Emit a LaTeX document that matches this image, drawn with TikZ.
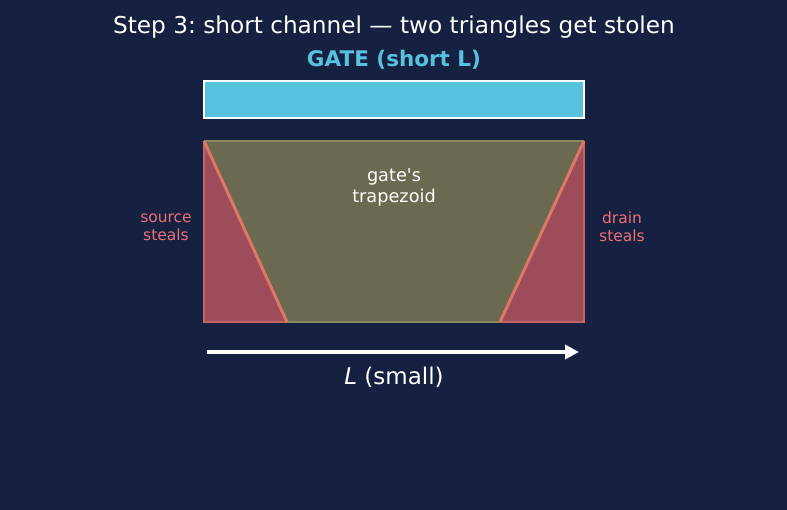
\documentclass[tikz,border=0pt]{standalone}
\usepackage{fontspec}
\setmainfont{DejaVu Sans}[Ligatures=TeXOff]
\usetikzlibrary{arrows.meta}
\frenchspacing
\definecolor{bg}{RGB}{22,32,64}
\definecolor{gatec}{RGB}{86,194,222}
\definecolor{trapc}{RGB}{107,105,80}
\definecolor{trapedge}{RGB}{140,138,92}
\definecolor{tric}{RGB}{158,75,90}
\definecolor{triedge}{RGB}{222,118,105}
\definecolor{stealc}{RGB}{236,112,120}
\tikzset{
  txt/.style={text=white, inner sep=0pt, align=center},
  steal/.style={text=stealc, inner sep=0pt, align=center, font=\fontsize{15.5}{18}\selectfont},
}
\begin{document}
\begin{tikzpicture}[x=1pt,y=-1pt]
\fill[bg] (0,0) rectangle (787,510);
\useasboundingbox (0,0) rectangle (787,510);
\node[txt, font=\fontsize{23.2}{27}\selectfont] (title) at (394,27) {Step 3: short channel — two triangles get stolen};
\node[inner sep=0pt, text=gatec, font=\bfseries\fontsize{21.5}{25}\selectfont] (gatelbl) at (394,60) {GATE (short L)};
\node[draw=white, line width=1.5pt, fill=gatec, minimum width=380pt, minimum height=37pt, inner sep=0pt] (gate) at (394,99.5) {};
\fill[trapc] (204,141) -- (584,141) -- (500,322) -- (287,322) -- cycle;
\draw[trapedge, line width=2.5pt] (204,141) -- (584,141);
\draw[trapedge, line width=2.5pt] (287,322) -- (500,322);
\fill[tric] (204,141) -- (287,322) -- (204,322) -- cycle;
\fill[tric] (584,141) -- (500,322) -- (584,322) -- cycle;
\draw[triedge!60!tric, line width=1.5pt] (204,141) -- (204,322) -- (287,322);
\draw[triedge!60!tric, line width=1.5pt] (584,141) -- (584,322) -- (500,322);
\draw[triedge, line width=3pt] (204,141) -- (287,322);
\draw[triedge, line width=3pt] (584,141) -- (500,322);
\node[txt, font=\fontsize{17.7}{21}\selectfont] (trap) at (394,187) {gate's\\trapezoid};
\node[steal] (src) at (166,227) {source\\steals};
\node[steal] (drn) at (622,227) {drain\\steals};
\coordinate (a1) at (207,352);
\coordinate (a2) at (579,352);
\draw[white, line width=3.5pt, -{Triangle[length=14pt,width=14pt]}] (a1) -- (a2);
\node[txt, font=\fontsize{23}{27}\selectfont] (L) at (394,377) {\textit{L} (small)};
\end{tikzpicture}
\end{document}
